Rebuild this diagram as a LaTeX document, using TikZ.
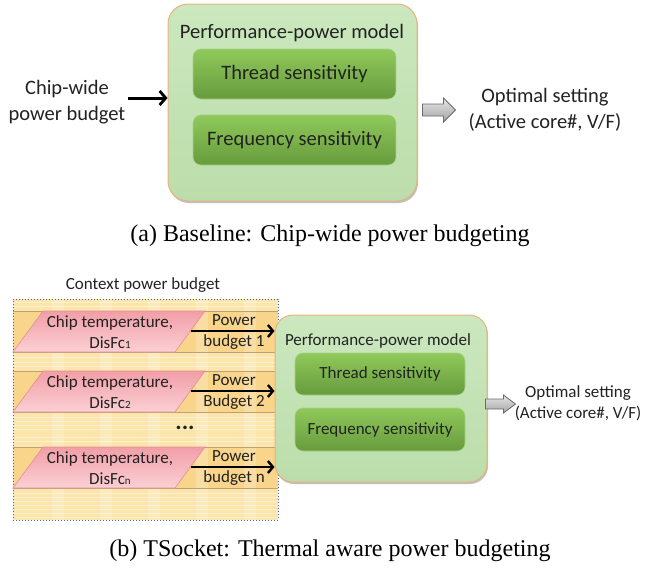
\documentclass[tikz,border=0pt]{standalone}
\usepackage{fontspec}
\setmainfont{Carlito}
\newfontfamily\capfont{Liberation Serif}
\usetikzlibrary{arrows.meta,shadows,calc}

\definecolor{ink}{HTML}{222222}
\definecolor{modeltop}{HTML}{CBE8BE}
\definecolor{modelbot}{HTML}{BCDDAB}
\definecolor{modeledge}{HTML}{E8B27C}
\definecolor{senstop}{HTML}{8FC95A}
\definecolor{sensbot}{HTML}{679B3D}
\definecolor{sensedge}{HTML}{A6D088}
\definecolor{paratop}{HTML}{F29EA7}
\definecolor{parabot}{HTML}{FAD0D4}
\definecolor{paraedge}{HTML}{E48D97}
\definecolor{ctxlight}{HTML}{FCE5AA}
\definecolor{ctxband}{HTML}{F9D58B}
\definecolor{ctxline}{HTML}{B9A27A}
\definecolor{ctxedge}{HTML}{4C6A98}
\definecolor{grayhi}{HTML}{E6E6E6}
\definecolor{graylo}{HTML}{A4A4A4}
\definecolor{grayedge}{HTML}{6A6A6A}

\tikzset{
  txtA/.style={text=ink, font=\fontsize{20.5}{26}\selectfont, align=center, inner sep=0pt},
  txtB/.style={text=ink, font=\fontsize{17}{21}\selectfont, align=center, inner sep=0pt},
  model/.style={rounded corners=20pt, draw=modeledge, line width=1pt,
    top color=modeltop, bottom color=modelbot, inner sep=0pt,
    drop shadow={shadow xshift=1pt, shadow yshift=-2pt, fill=black, opacity=0.25}},
  sens/.style={rounded corners=8pt, draw=sensedge, line width=0.6pt,
    top color=senstop, bottom color=sensbot, inner sep=0pt},
  para/.style={draw=paraedge, line width=0.6pt, top color=paratop, bottom color=parabot},
  blockarrow/.style={draw=grayedge, line width=0.8pt, top color=grayhi, bottom color=graylo, line join=miter},
  flowA/.style={draw=black, line width=3pt, -{Straight Barb[length=6pt,width=14pt,line width=2.8pt]}},
  flowB/.style={draw=black, line width=2.6pt, -{Straight Barb[length=5pt,width=12pt,line width=2.4pt]}},
  ctxbox/.style={draw=ctxedge, dotted, line width=1pt, inner sep=0pt},
  caption/.style={text=black, font=\capfont\fontsize{24}{28}\selectfont, inner sep=0pt}
}

\begin{document}
\begin{tikzpicture}[x=1pt,y=-1pt]
\useasboundingbox (0,0) rectangle (662,570);

% ---------- (a) chip-wide budgeting ----------
\node[model, minimum width=249pt, minimum height=197pt] (mA) at (292.5,102.5) {};
\node[txtA] (titleA) at (292,33) {Performance-power model};
\node[sens, minimum width=203pt, minimum height=50pt] (thrA) at (294.5,74) {};
\node[txtA] at (thrA) {Thread sensitivity};
\node[sens, minimum width=203pt, minimum height=50pt] (frqA) at (294.5,140) {};
\node[txtA] at (frqA) {Frequency sensitivity};

\node[txtA] (inA) at (67,102) {Chip-wide\\power budget};
\coordinate (sA) at (128,98);
\draw[flowA] (sA) -- (mA.west |- sA);

\coordinate (aA) at ($(mA.east |- 0,110)+(5,0)$);
\draw[blockarrow] (aA) ++(0,-6) -- ++(21,0) -- ++(0,-6) -- ++(12,12)
  -- ++(-12,12) -- ++(0,-6) -- ++(-21,0) -- cycle;
\node[txtA] (outA) at (545,110) {Optimal setting\\(Active core\#, V/F)};

\node[caption] (capA) at (330,236) {(a)\ Baseline: Chip-wide power budgeting};

% ---------- (b) thermal aware budgeting ----------
\node[txtB] (ctxlabel) at (143,285) {Context power budget};

% checked background of the context area
\fill[ctxlight] (13,299) rectangle (278,520);
\foreach \t in {311,371,447} {
  \fill[ctxband] (13,\t) rectangle (278,\t+41);
}
\foreach \x in {52,100,148,196,244} {
  \fill[white, opacity=0.2] (\x,299) rectangle (\x+12,520);
}
\foreach \y in {302,306,357,362,366,417,421,425,429,437,441,493,497,501,505,509,513,517} {
  \draw[white, opacity=0.4, line width=0.8pt] (13,\y) -- (278,\y);
}
\foreach \t in {311,371,447} {
  \draw[ctxline, line width=0.5pt] (13,\t) -- (278,\t);
  \draw[ctxline, line width=0.5pt] (13,\t+41) -- (278,\t+41);
}
\node[ctxbox, minimum width=265pt, minimum height=221pt] (ctx) at (145.5,409.5) {};

\node[model, rounded corners=18pt, minimum width=212pt, minimum height=167pt] (mB) at (381,398.5) {};
\node[txtB] (titleB) at (378,341) {Performance-power model};
\node[sens, minimum width=170pt, minimum height=42pt] (thrB) at (380,374) {};
\node[txtB] at (thrB) {Thread sensitivity};
\node[sens, minimum width=170pt, minimum height=43pt] (frqB) at (380,429.5) {};
\node[txtB] at (frqB) {Frequency sensitivity};

\foreach \i/\t/\lab/\sub in {1/311/budget 1/1, 2/371/Budget 2/2, 3/447/budget n/n} {
  \draw[para] (43,\t) -- (205,\t) -- (175,\t+41) -- (13,\t+41) -- cycle;
  \node[txtB] (chip\i) at (110,\t+21)
    {Chip temperature,\\DisFc{\fontsize{11}{11}\selectfont\sub}};
  \node[txtB] (pw\i) at (234,\t+21) {Power\\\lab};
  \coordinate (s\i) at (190.5,\t+20);
  \draw[flowB] (s\i) -- (mB.west |- s\i);
}
\node[text=ink, font=\bfseries\fontsize{24}{24}\selectfont, inner sep=0pt] (dots) at (185,428) {...};

\coordinate (aB) at ($(mB.east |- 0,404)+(-2,0)$);
\draw[blockarrow] (aB) ++(0,-5) -- ++(18,0) -- ++(0,-4) -- ++(12,9)
  -- ++(-12,9) -- ++(0,-4) -- ++(-18,0) -- cycle;
\node[txtB] (outB) at (578,403) {Optimal setting\\(Active core\#, V/F)};

\node[caption] (capB) at (330,551) {(b)\ TSocket: Thermal aware power budgeting};
\end{tikzpicture}
\end{document}
